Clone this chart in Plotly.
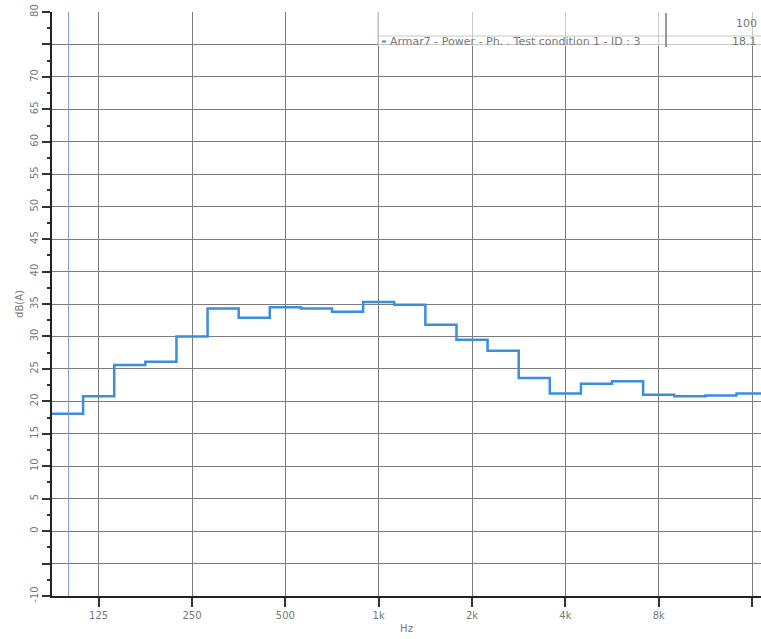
import math
import plotly.graph_objects as go

# 1/3-octave band centres (Hz) and A-weighted levels (dB(A))
band_centres = [100, 125, 160, 200, 250, 315, 400, 500, 630, 800, 1000, 1250,
                1600, 2000, 2500, 3150, 4000, 5000, 6300, 8000, 10000, 12500, 16000]
levels = [18.1, 20.8, 25.6, 26.1, 30.0, 34.3, 32.9, 34.5, 34.3, 33.8, 35.3, 34.9,
          31.8, 29.5, 27.8, 23.6, 21.2, 22.7, 23.1, 21.0, 20.8, 20.9, 21.2]

x_tick_vals = [125, 250, 500, 1000, 2000, 4000, 8000, 16000]
x_tick_text = ["125", "250", "500", "1k", "2k", "4k", "8k", ""]
y_tick_vals = list(range(-10, 81, 5))
y_tick_text = ["" if v in (75, -5) else str(v) for v in y_tick_vals]

cursor_freq = 100
cursor_value = 18.1
series_name = "Armar7 - Power - Ph. . Test condition 1 - ID : 3"

# exact third-octave centres -> band edges for the step plot
exact = [1000 * 2 ** (round(3 * math.log2(f / 1000)) / 3) for f in band_centres]
lower = [f * 2 ** (-1 / 6) for f in exact]
upper_last = exact[-1] * 2 ** (1 / 6)
xs = lower + [upper_last]
ys = levels + [levels[-1]]

W, H = 761, 639
L, R, T, B = 52, 0, 12, 43
pw, ph = W - L - R, H - T - B


def px(x):
    return (x - L) / pw


def py(y):
    return (H - B - y) / ph


fig = go.Figure()
fig.add_trace(go.Scatter(x=xs, y=ys, mode="lines", line=dict(shape="hv", color="#3a8edb", width=2.5),
                         showlegend=False, hoverinfo="skip"))

font = dict(family="DejaVu Sans, Verdana, sans-serif", size=10, color="#777777")

fig.update_layout(
    width=W, height=H,
    margin=dict(l=L, r=R, t=T, b=B),
    paper_bgcolor="white", plot_bgcolor="white",
    font=font,
    xaxis=dict(type="log", range=[math.log10(exact[0] * 2 ** (-1 / 6)), math.log10(17100)],
               tickvals=x_tick_vals, ticktext=x_tick_text,
               showgrid=True, gridcolor="#7c7c7c", gridwidth=1.4,
               ticks="outside", ticklen=9, tickwidth=1.5, tickcolor="#333333",
               showline=True, linecolor="#222222", linewidth=2,
               zeroline=False, title=dict(text="Hz", standoff=5, font=font), tickfont=font),
    yaxis=dict(range=[-10, 80], tickvals=y_tick_vals, ticktext=y_tick_text, tickangle=-90,
               showgrid=True, gridcolor="#7c7c7c", gridwidth=1.4,
               ticks="outside", ticklen=8, tickwidth=1.5, tickcolor="#333333",
               showline=True, linecolor="#222222", linewidth=2,
               minor=dict(dtick=2.5, ticks="outside", ticklen=3, tickwidth=1.5, tickcolor="#333333", showgrid=False),
               zeroline=False, title=dict(text="dB(A)", standoff=4, font=font), tickfont=font),
)

# cursor line
fig.add_shape(type="line", xref="x", yref="paper", x0=cursor_freq, x1=cursor_freq, y0=0, y1=1,
              line=dict(color="#7a96c8", width=1), layer="above")

# cursor value table
shapes = [
    dict(type="rect", xref="paper", yref="paper", x0=px(378), x1=1.0, y0=py(46), y1=1.0,
         fillcolor="rgba(255,255,255,0.6)", line=dict(width=0), layer="above"),
    dict(type="line", xref="paper", yref="paper", x0=px(378), x1=1.0, y0=py(36), y1=py(36),
         line=dict(color="#c8c8c8", width=1), layer="above"),
    dict(type="line", xref="paper", yref="paper", x0=px(378), x1=px(378), y0=py(46), y1=1.0,
         line=dict(color="#bbbbbb", width=1), layer="above"),
    dict(type="line", xref="paper", yref="paper", x0=px(666), x1=px(666), y0=py(47), y1=py(13),
         line=dict(color="#777777", width=1.5), layer="above"),
    dict(type="line", xref="paper", yref="paper", x0=px(382), x1=px(386), y0=py(41.5), y1=py(41.5),
         line=dict(color="#3a8edb", width=2), layer="above"),
]
for s in shapes:
    fig.add_shape(**s)

small = dict(family="DejaVu Sans, Verdana, sans-serif", size=11, color="#777777")
fig.add_annotation(xref="paper", yref="paper", x=px(388), y=py(41.5), text=series_name, showarrow=False,
                   xanchor="left", yanchor="middle", font=small)
fig.add_annotation(xref="paper", yref="paper", x=px(759), y=py(41.5), text=f"{cursor_value}", showarrow=False,
                   xanchor="right", yanchor="middle", font=small)
fig.add_annotation(xref="paper", yref="paper", x=px(759), y=py(24), text=f"{cursor_freq}", showarrow=False,
                   xanchor="right", yanchor="middle", font=small)

fig.write_html("out.html", config={"displayModeBar": False},
               post_script="document.body.style.margin='0';document.body.style.overflow='hidden';")
